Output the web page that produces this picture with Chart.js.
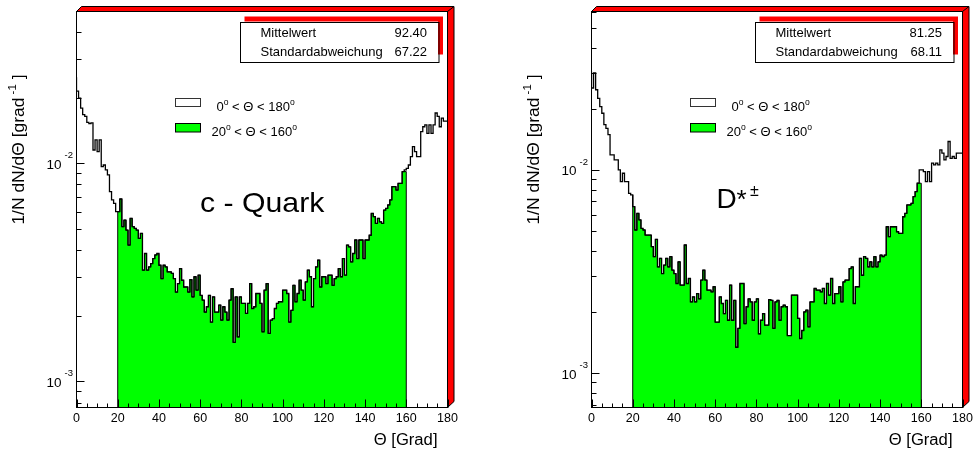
<!DOCTYPE html>
<html>
<head>
<meta charset="utf-8">
<script src="https://cdn.jsdelivr.net/npm/chart.js@4.4.1/dist/chart.umd.min.js"></script>
<style>
  html, body { margin: 0; padding: 0; background: #fff; }
  #wrap { position: relative; width: 973px; height: 450px; overflow: hidden; }
  canvas { position: absolute; top: 0; }
</style>
</head>
<body>
<div id="wrap">
  <canvas id="cQuark" width="487" height="450" style="left:0;width:487px;height:450px"></canvas>
  <canvas id="dStar" width="486" height="450" style="left:487px;width:486px;height:450px"></canvas>
</div>
<script>
// --- data: 1/N dN/dTheta per 1 degree bin, 0..180 ---
const THETA_MIN = 0;
const THETA_MAX = 180;
const BIN_WIDTH = 1;
const FILL_RANGE = [20, 160];
const X_TICKS = [0, 20, 40, 60, 80, 100, 120, 140, 160, 180];
const STAT_LABELS = ['Mittelwert', 'Standardabweichung'];

const cQuarkDist = [
  0.0248, 0.0214, 0.0199, 0.0179, 0.0167, 0.0164, 0.0154, 0.0152, 0.0153, 0.0115,
  0.0128, 0.0113, 0.0128, 0.00965, 0.00982, 0.00932, 0.00885, 0.00741, 0.00679, 0.00655,
  0.00600, 0.00600, 0.00686, 0.00512, 0.00549, 0.00494, 0.00422, 0.00559, 0.00512, 0.00503,
  0.00494, 0.00453, 0.00477, 0.00324, 0.00386, 0.00324, 0.00335, 0.00347, 0.00366, 0.00380,
  0.00386, 0.00341, 0.00296, 0.00341, 0.00335, 0.00318, 0.00318, 0.00313, 0.00296, 0.00257,
  0.00281, 0.00329, 0.00291, 0.00271, 0.00271, 0.00257, 0.00293, 0.00244, 0.00302, 0.00262,
  0.00307, 0.00248, 0.00236, 0.00208, 0.00220, 0.00248, 0.00187, 0.00244, 0.00208, 0.00208,
  0.00224, 0.00191, 0.00220, 0.00208, 0.00191, 0.00236, 0.00266, 0.00151, 0.00244, 0.00160,
  0.00244, 0.00228, 0.00228, 0.00205, 0.00228, 0.00281, 0.00216, 0.00220, 0.00253, 0.00253,
  0.00228, 0.00169, 0.00262, 0.00281, 0.00166, 0.00191, 0.00194, 0.00216, 0.00228, 0.00232,
  0.00232, 0.00262, 0.00262, 0.00253, 0.00187, 0.00212, 0.00276, 0.00232, 0.00253, 0.00291,
  0.00262, 0.00236, 0.00286, 0.00324, 0.00302, 0.00220, 0.00296, 0.00335, 0.00360, 0.00271,
  0.00302, 0.00302, 0.00281, 0.00307, 0.00307, 0.00276, 0.00296, 0.00302, 0.00329, 0.00302,
  0.00366, 0.00307, 0.00422, 0.00414, 0.00353, 0.00386, 0.00445, 0.00366, 0.00445, 0.00445,
  0.00366, 0.00445, 0.00445, 0.00468, 0.00589, 0.00569, 0.00530, 0.00559, 0.00539, 0.00530,
  0.00610, 0.00621, 0.00644, 0.00679, 0.00781, 0.00781, 0.00754, 0.00809, 0.00809, 0.00916,
  0.00932, 0.00948, 0.00982, 0.01073, 0.01193, 0.01131, 0.01073, 0.01073, 0.01395, 0.0147,
  0.0150, 0.0137, 0.0150, 0.0137, 0.0150, 0.0170, 0.0164, 0.0147, 0.0161, 0.0156
];

const dStarDist = [
  0.0305, 0.0253, 0.0300, 0.0248, 0.0225, 0.0205, 0.0190, 0.0167, 0.0160, 0.0149,
  0.01186, 0.01186, 0.0112, 0.0112, 0.0100, 0.00876, 0.00963, 0.00876, 0.00876, 0.00767,
  0.00753, 0.00660, 0.00506, 0.00611, 0.00567, 0.00515, 0.00506, 0.00478, 0.00478, 0.00478,
  0.00419, 0.00374, 0.00455, 0.00333, 0.00367, 0.00309, 0.00340, 0.00367, 0.00333, 0.00374,
  0.00321, 0.00309, 0.00276, 0.00353, 0.00271, 0.00271, 0.00427, 0.00276, 0.00292, 0.00224,
  0.00237, 0.00224, 0.00246, 0.00232, 0.00287, 0.00321, 0.00287, 0.00256, 0.00256, 0.00251,
  0.00266, 0.00178, 0.00178, 0.00237, 0.00220, 0.00196, 0.00228, 0.00182, 0.00271, 0.00182,
  0.00228, 0.00134, 0.00166, 0.00276, 0.00276, 0.00175, 0.00212, 0.00232, 0.00224, 0.00182,
  0.00224, 0.00232, 0.00156, 0.00182, 0.00196, 0.00172, 0.00172, 0.00230, 0.00228, 0.00166,
  0.00224, 0.00228, 0.00182, 0.00212, 0.00216, 0.00212, 0.00153, 0.00153, 0.00242, 0.00242,
  0.00242, 0.00186, 0.00148, 0.00162, 0.00200, 0.00204, 0.00169, 0.00224, 0.00224, 0.00261,
  0.00256, 0.00256, 0.00251, 0.00261, 0.00220, 0.00276, 0.00242, 0.00292, 0.00220, 0.00246,
  0.00246, 0.00266, 0.00224, 0.00281, 0.00287, 0.00287, 0.00327, 0.00333, 0.00220, 0.00266,
  0.00266, 0.00367, 0.00303, 0.00374, 0.00367, 0.00333, 0.00353, 0.00333, 0.00374, 0.00333,
  0.00353, 0.00381, 0.00374, 0.00381, 0.00525, 0.00469, 0.00525, 0.00525, 0.00525, 0.00496,
  0.00487, 0.00487, 0.00588, 0.00611, 0.00672, 0.00672, 0.00685, 0.00739, 0.00782, 0.00860,
  0.0100, 0.0100, 0.00981, 0.00876, 0.00981, 0.00876, 0.01079, 0.01058, 0.01079, 0.01058,
  0.01255, 0.01208, 0.0112, 0.01164, 0.0138, 0.0114, 0.01164, 0.0114, 0.01208, 0.01208
];

const cQuarkStats = ['92.40', '67.22'];
const dStarStats = ['81.25', '68.11'];
const cQuarkYRange = [7.6e-4, 0.0496];
const dStarYRange = [6.77e-4, 0.0602];

const FONT = '"Liberation Sans", Arial, Helvetica, sans-serif';
const GREEN = '#00ff00';
const RED = '#ff0000';

// rich text: parts = [[text, 'sup' | '']]
function richWidth(ctx, parts, size) {
  let w = 0;
  parts.forEach(([t, k]) => {
    ctx.font = (k === 'sup' ? size * 0.66 : size) + 'px ' + FONT;
    w += ctx.measureText(t).width;
  });
  return w;
}
function drawRich(ctx, x, y, parts, size, align) {
  const w = richWidth(ctx, parts, size);
  let cx = align === 'right' ? x - w : align === 'center' ? x - w / 2 : x;
  ctx.textAlign = 'left';
  ctx.textBaseline = 'alphabetic';
  parts.forEach(([t, k]) => {
    ctx.font = (k === 'sup' ? size * 0.66 : size) + 'px ' + FONT;
    ctx.fillText(t, cx, k === 'sup' ? y - size * 0.45 : y);
    cx += ctx.measureText(t).width;
  });
}
// same, slightly widened (the original glyphs are wider than Liberation Sans)
function drawWide(ctx, x, y, parts, size, align, sx) {
  ctx.save();
  ctx.translate(x, y);
  ctx.scale(sx, 1);
  drawRich(ctx, 0, 0, parts, size, align);
  ctx.restore();
}

function stepPoints(values) {
  const pts = values.map((v, i) => ({ x: THETA_MIN + i * BIN_WIDTH, y: v }));
  pts.push({ x: THETA_MAX, y: values[values.length - 1] });
  return pts;
}
function filledPoints(values, yMin) {
  const pts = [{ x: FILL_RANGE[0], y: yMin }];
  for (let i = FILL_RANGE[0]; i < FILL_RANGE[1]; i++) pts.push({ x: i, y: values[i] });
  pts.push({ x: FILL_RANGE[1], y: values[FILL_RANGE[1] - 1] });
  pts.push({ x: FILL_RANGE[1], y: yMin });
  return pts;
}

function decorPlugin(panel) {
  return {
    id: 'decor',
    afterDraw(chart) {
      const ctx = chart.ctx;
      const { left: L, right: R, top: T, bottom: B } = chart.chartArea;
      const xs = chart.scales.x, ys = chart.scales.y;
      ctx.save();
      ctx.fillStyle = '#000';
      ctx.strokeStyle = '#000';
      ctx.lineWidth = 1;

      // raised red frame border (top + right)
      ctx.beginPath();
      ctx.moveTo(L, T); ctx.lineTo(L + 5, T - 5); ctx.lineTo(R + 6.5, T - 5);
      ctx.lineTo(R + 6.5, B - 6); ctx.lineTo(R, B); ctx.lineTo(R, T); ctx.closePath();
      ctx.fillStyle = RED; ctx.fill(); ctx.stroke();
      ctx.beginPath(); ctx.moveTo(R, T); ctx.lineTo(R + 6.5, T - 5); ctx.stroke();

      // frame
      ctx.strokeRect(L, T, R - L, B - T);

      // x ticks
      ctx.beginPath();
      for (let v = THETA_MIN; v <= THETA_MAX; v += 5) {
        const px = Math.round(xs.getPixelForValue(v)) + 0.5;
        const len = v % 20 === 0 ? 8 : 4;
        ctx.moveTo(px, B); ctx.lineTo(px, B - len);
      }
      // y ticks (log)
      const [yMin, yMax] = panel.yRange;
      for (let e = -4; e <= -1; e++) {
        for (let m = 1; m <= 9; m++) {
          const v = m * Math.pow(10, e);
          if (v < yMin || v > yMax) continue;
          const py = Math.round(ys.getPixelForValue(v)) + 0.5;
          ctx.moveTo(L, py); ctx.lineTo(L + (m === 1 ? 8 : 5), py);
        }
      }
      ctx.stroke();

      ctx.fillStyle = '#000';
      // x tick labels
      ctx.font = '12.5px ' + FONT;
      ctx.textAlign = 'center';
      ctx.textBaseline = 'alphabetic';
      X_TICKS.forEach(v => ctx.fillText(String(v), xs.getPixelForValue(v), 421.5));

      // y tick labels 10^-2, 10^-3
      [-2, -3].forEach(e => {
        const py = ys.getPixelForValue(Math.pow(10, e));
        ctx.font = '13.5px ' + FONT;
        ctx.textAlign = 'right';
        ctx.fillText('10', L - 15, py + 5.5);
        ctx.font = '9.5px ' + FONT;
        ctx.textAlign = 'left';
        ctx.fillText(String(e), L - 12, py - 5);
      });

      // axis titles
      drawWide(ctx, R - 10, 445, [['\u0398 [Grad]', '']], 16, 'right', 1.04);
      ctx.save();
      ctx.translate(L - 53, T + 63);
      ctx.rotate(-Math.PI / 2);
      drawWide(ctx, 0, 0, [['1/N dN/d\u0398 [grad', ''], [' -1', 'sup'], [' ]', '']], 16, 'right', 1.09);
      ctx.restore();

      // stats box
      const bx = L + 163, by = T + 10, bw = 198.5, bh = 40;
      ctx.fillStyle = RED;
      ctx.fillRect(bx + 5, by - 5, bw, bh - 2);
      ctx.fillStyle = '#fff';
      ctx.fillRect(bx, by, bw, bh);
      ctx.strokeRect(Math.round(bx) + 0.5, Math.round(by) + 0.5, bw, bh);
      ctx.fillStyle = '#000';
      ctx.font = '13px ' + FONT;
      ctx.textAlign = 'left';
      ctx.fillText(STAT_LABELS[0], bx + 21, by + 15.5);
      ctx.fillText(STAT_LABELS[1], bx + 21, by + 34);
      ctx.textAlign = 'right';
      ctx.fillText(panel.stats[0], bx + bw - 11, by + 15.5);
      ctx.fillText(panel.stats[1], bx + bw - 11, by + 34);

      // legend
      const lx = Math.round(L + 98.5) + 0.5;
      ctx.fillStyle = '#fff';
      ctx.fillRect(lx, 98.5, 25, 8);
      ctx.strokeStyle = '#333';
      ctx.strokeRect(lx, 98.5, 25, 8);
      ctx.fillStyle = GREEN;
      ctx.fillRect(lx, 123.5, 25, 8.5);
      ctx.strokeStyle = '#000';
      ctx.strokeRect(lx, 123.5, 25, 8.5);
      ctx.fillStyle = '#000';
      drawRich(ctx, L + 140, 110.5, [['0', ''], ['o', 'sup'], [' < \u0398 < 180', ''], ['o', 'sup']], 13, 'left');
      drawRich(ctx, L + 135, 135.5, [['20', ''], ['o', 'sup'], [' < \u0398 < 160', ''], ['o', 'sup']], 13, 'left');

      // big label
      panel.drawLabel(ctx, L);
      ctx.restore();
    }
  };
}

function makePanel(canvasId, values, yRange, stats, padding, drawLabel) {
  const panel = { yRange, stats, drawLabel };
  return new Chart(document.getElementById(canvasId), {
    type: 'line',
    data: {
      datasets: [
        {
          data: stepPoints(values),
          stepped: 'after',
          borderColor: '#000',
          borderWidth: 1.3,
          pointRadius: 0,
          fill: false
        },
        {
          data: filledPoints(values, yRange[0]),
          stepped: 'after',
          borderColor: '#000',
          borderWidth: 1,
          backgroundColor: GREEN,
          pointRadius: 0,
          fill: 'start'
        }
      ]
    },
    options: {
      responsive: false,
      animation: false,
      events: [],
      layout: { padding },
      plugins: { legend: { display: false }, tooltip: { enabled: false } },
      scales: {
        x: { type: 'linear', min: THETA_MIN, max: THETA_MAX, display: false },
        y: { type: 'logarithmic', min: yRange[0], max: yRange[1], display: false }
      }
    },
    plugins: [decorPlugin(panel)]
  });
}

makePanel('cQuark', cQuarkDist, cQuarkYRange, cQuarkStats,
  { left: 76.5, right: 39.5, top: 11.5, bottom: 42.5 },
  (ctx, L) => {
    drawWide(ctx, L + 123.5, 211.5, [['c - Quark', '']], 28, 'left', 1.08);
  });

makePanel('dStar', dStarDist, dStarYRange, dStarStats,
  { left: 104.5, right: 10.5, top: 11.5, bottom: 42.5 },
  (ctx, L) => {
    ctx.textAlign = 'left';
    ctx.font = '28px ' + FONT;
    ctx.fillText('D', L + 125, 207.5);
    ctx.font = '26px ' + FONT;
    ctx.fillText('*', L + 145, 207.5);
    ctx.font = '16px ' + FONT;
    ctx.fillText('\u00b1', L + 158.5, 195.5);
  });
</script>
</body>
</html>
